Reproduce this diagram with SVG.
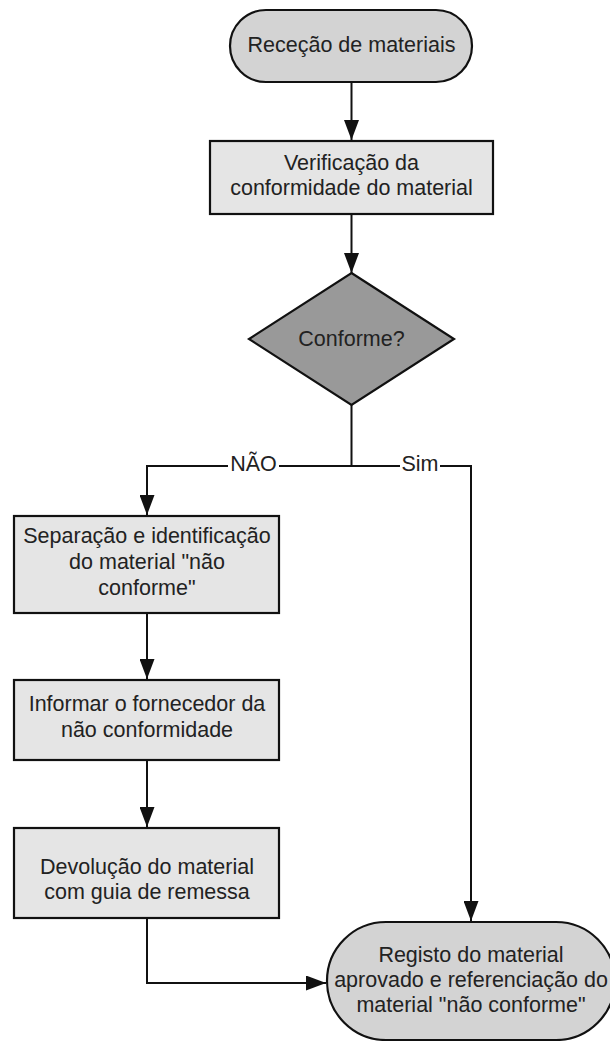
<svg xmlns="http://www.w3.org/2000/svg" width="610" height="1041" viewBox="0 0 610 1041">
  <style>
    .shape { stroke: #111; stroke-width: 2.2; }
    .term { fill: #d3d3d3; }
    .proc { fill: #e5e5e5; }
    .dec { fill: #999999; }
    .lbl { font-family: "Liberation Sans", Arial, sans-serif; font-size: 21.5px; fill: #222; text-anchor: middle; }
    .edge { fill: none; stroke: #111; stroke-width: 2; }
  </style>
  <defs>
    <marker id="arrow" viewBox="0 0 20 15" refX="20" refY="7.5" markerWidth="20" markerHeight="15" markerUnits="userSpaceOnUse" orient="auto">
      <path d="M0,0 L20,7.5 L0,15 Z" fill="#111"/>
    </marker>
  </defs>

  <rect width="610" height="1041" fill="#ffffff"/>

  <!-- connectors -->
  <g id="connectors">
    <path class="edge" d="M351.5,82 V140" marker-end="url(#arrow)"/>
    <path class="edge" d="M351.5,214 V273" marker-end="url(#arrow)"/>
    <path class="edge" d="M351.5,405 V466 H147 V515" marker-end="url(#arrow)"/>
    <path class="edge" d="M351.5,466 H471 V921" marker-end="url(#arrow)"/>
    <path class="edge" d="M147,613 V679" marker-end="url(#arrow)"/>
    <path class="edge" d="M147,760 V827" marker-end="url(#arrow)"/>
    <path class="edge" d="M147,918 V983 H326" marker-end="url(#arrow)"/>
    <g id="edge-labels">
      <rect x="228" y="454" width="51" height="24" fill="#ffffff"/>
      <text class="lbl" x="253.5" y="471">NÃO</text>
      <rect x="400" y="454" width="40" height="24" fill="#ffffff"/>
      <text class="lbl" x="420" y="471">Sim</text>
    </g>
  </g>

  <g id="start">
    <rect class="shape term" x="230" y="10" width="242" height="72" rx="36"/>
    <text class="lbl" x="351.5" y="52">Receção de materiais</text>
  </g>

  <g id="verify">
    <rect class="shape proc" x="210" y="141" width="283" height="73"/>
    <text class="lbl" x="351.5" y="170">Verificação da</text>
    <text class="lbl" x="351.5" y="195">conformidade do material</text>
  </g>

  <g id="decision">
    <polygon class="shape dec" points="351.5,273 454,339 351.5,405 249,339"/>
    <text class="lbl" x="351.5" y="346">Conforme?</text>
  </g>

  <g id="separate">
    <rect class="shape proc" x="14" y="516" width="265" height="97"/>
    <text class="lbl" x="147" y="543">Separação e identificação</text>
    <text class="lbl" x="147" y="569">do material "não</text>
    <text class="lbl" x="147" y="595">conforme"</text>
  </g>

  <g id="inform">
    <rect class="shape proc" x="14" y="680" width="265" height="80"/>
    <text class="lbl" x="147" y="711">Informar o fornecedor da</text>
    <text class="lbl" x="147" y="737">não conformidade</text>
  </g>

  <g id="return">
    <rect class="shape proc" x="14" y="828" width="265" height="90"/>
    <text class="lbl" x="147" y="874">Devolução do material</text>
    <text class="lbl" x="147" y="899">com guia de remessa</text>
  </g>

  <g id="register">
    <rect class="shape term" x="327" y="922" width="288" height="118" rx="59"/>
    <text class="lbl" x="471" y="962">Registo do material</text>
    <text class="lbl" x="471" y="987">aprovado e referenciação do</text>
    <text class="lbl" x="471" y="1012">material "não conforme"</text>
  </g>
</svg>
